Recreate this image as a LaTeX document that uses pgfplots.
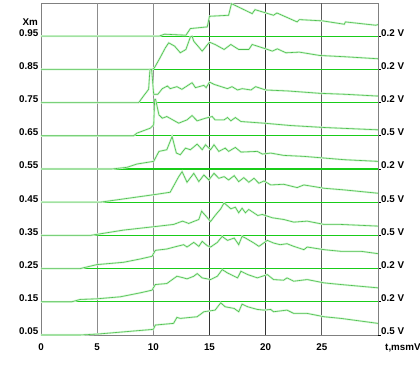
\documentclass[border=0pt]{standalone}
\usepackage{pgfplots}
\pgfplotsset{compat=1.18}
\usepackage{fontspec}
\setmainfont{Liberation Sans}
\definecolor{frm}{rgb}{0.5,0.5,0.5}
\definecolor{gridl}{rgb}{0.55,0.55,0.55}
\definecolor{gridd}{rgb}{0.2,0.2,0.2}
\definecolor{basel}{rgb}{0.1,0.8,0.1}
\definecolor{trc}{rgb}{0.3,0.75,0.3}
\definecolor{halo}{rgb}{0.82,0.96,0.82}
\begin{document}
\begin{tikzpicture}
\pgfplotsset{
  trace/.style={color=trc, line width=0.6pt, no marks, preaction={draw=halo, line width=2pt}},
  bthin/.style={color=basel, line width=0.7pt, no marks},
  bthick/.style={color=basel, line width=1.1pt, no marks},
}
\begin{axis}[
  scale only axis, width=337pt, height=332pt,
  xmin=0, xmax=30, ymin=0.05, ymax=1.05,
  axis line style={frm, line width=0.8pt},
  xtick={0,5,10,15,20,25}, xticklabels={0,5,10,15,20,25},
  ytick={0.05,0.15,0.25,0.35,0.45,0.55,0.65,0.75,0.85,0.95},
  yticklabels={0.05,0.15,0.25,0.35,0.45,0.55,0.65,0.75,0.85,0.95},
  major tick length=0pt,
  xtick pos=bottom, ytick pos=left,
  tick label style={font=\bfseries\fontsize{9.8}{11}\selectfont},
  xticklabel style={anchor=north, yshift=-5pt},
  yticklabel style={anchor=base east, inner sep=2.5pt},
  clip=false,
]
% vertical grid lines
\addplot[gridl, line width=0.7pt] coordinates {(5,0.05) (5,1.05)};
\addplot[gridl, line width=0.7pt] coordinates {(10,0.05) (10,1.05)};
\addplot[gridd, line width=0.7pt] coordinates {(15,0.05) (15,1.05)};
\addplot[gridd, line width=0.7pt] coordinates {(20,0.05) (20,1.05)};
\addplot[gridd!80!white, line width=0.7pt] coordinates {(25,0.05) (25,1.05)};
% baselines
\addplot[bthin] coordinates {(0,0.95) (30,0.95)};
\addplot[bthin] coordinates {(0,0.85) (30,0.85)};
\addplot[bthick] coordinates {(0,0.75) (30,0.75)};
\addplot[bthick] coordinates {(0,0.65) (30,0.65)};
\addplot[bthick] coordinates {(0,0.55) (30,0.55)};
\addplot[bthick] coordinates {(0,0.45) (30,0.45)};
\addplot[bthin] coordinates {(0,0.35) (30,0.35)};
\addplot[bthin] coordinates {(0,0.25) (30,0.25)};
\addplot[bthin] coordinates {(0,0.15) (30,0.15)};
% traces
\addplot[trace] coordinates {(0,0.95) (10.5,0.95) (11,0.956) (12.9,0.953) (13.3,0.973) (14.8,0.978) (15.0,1.010) (16.7,1.013) (16.96,1.048) (18.8,1.018) (19.05,1.030) (20.7,1.013) (21.0,1.020) (22.8,0.993) (23.0,1.000) (25.1,0.996) (27.0,0.986) (27.1,0.993) (29.8,0.983) (30,0.985)};
\addplot[trace] coordinates {(0,0.85) (9.9,0.85) (10.1,0.855) (10.6,0.885) (11.07,0.915) (11.37,0.930) (11.9,0.92) (12.4,0.900) (12.9,0.91) (13.3,0.948) (13.45,0.95) (13.6,0.935) (14.35,0.905) (15.0,0.932) (15.5,0.925) (16.3,0.91) (16.9,0.925) (17.6,0.91) (18.5,0.91) (18.8,0.925) (19.26,0.92) (20.0,0.912) (20.6,0.905) (21.04,0.912) (21.8,0.90) (23.0,0.902) (24.8,0.892) (27.1,0.888) (30,0.882)};
\addplot[trace] coordinates {(0,0.75) (8.7,0.75) (9.13,0.770) (9.58,0.790) (9.7,0.85) (9.85,0.85) (10.03,0.775) (10.4,0.775) (10.8,0.792) (11.25,0.800) (11.5,0.792) (12.1,0.798) (12.54,0.790) (13.45,0.810) (13.75,0.795) (14.5,0.802) (14.7,0.795) (15.0,0.812) (15.4,0.805) (16.6,0.792) (17.0,0.798) (17.5,0.788) (17.9,0.792) (18.7,0.788) (19.1,0.798) (20.0,0.788) (22.0,0.785) (24.8,0.778) (27.1,0.775) (29.8,0.770) (30,0.770)};
\addplot[trace] coordinates {(0,0.65) (8.24,0.65) (8.54,0.658) (9.73,0.673) (10.03,0.683) (10.12,0.76) (10.2,0.76) (10.5,0.713) (10.8,0.703) (11.2,0.708) (12.26,0.688) (13.0,0.698) (13.45,0.711) (13.9,0.695) (14.64,0.703) (15.24,0.708) (15.5,0.698) (16.3,0.698) (16.6,0.705) (16.9,0.695) (17.3,0.705) (17.8,0.693) (19.85,0.688) (22.2,0.681) (25.2,0.675) (30,0.668)};
\addplot[trace] coordinates {(0,0.55) (6.3,0.55) (7.65,0.555) (8.54,0.565) (10.03,0.573) (10.5,0.603) (11.2,0.608) (11.67,0.648) (12.05,0.598) (12.4,0.593) (12.86,0.613) (13.3,0.608) (13.9,0.625) (14.35,0.608) (14.64,0.623) (15.1,0.608) (15.4,0.623) (15.83,0.603) (16.4,0.613) (16.7,0.603) (17.3,0.615) (17.8,0.601) (19.26,0.603) (19.7,0.595) (20.45,0.598) (21.6,0.591) (23.4,0.588) (25.2,0.583) (27.0,0.578) (30,0.573)};
\addplot[trace] coordinates {(0,0.45) (5.27,0.45) (10.33,0.474) (11.5,0.480) (12.26,0.527) (12.56,0.542) (13.0,0.510) (13.6,0.537) (14.05,0.512) (14.5,0.532) (14.94,0.517) (15.4,0.537) (15.83,0.522) (16.3,0.527) (16.7,0.517) (17.2,0.530) (17.6,0.512) (18.06,0.524) (18.5,0.510) (18.96,0.522) (19.4,0.507) (19.85,0.514) (20.45,0.502) (21.6,0.504) (22.8,0.494) (23.4,0.502) (25.2,0.492) (27.0,0.487) (30,0.477)};
\addplot[trace] coordinates {(0,0.35) (4.4,0.35) (7.35,0.366) (10.0,0.376) (11.8,0.383) (12.6,0.393) (13.15,0.386) (14.05,0.398) (14.3,0.423) (15.1,0.392) (15.5,0.41) (16.0,0.43) (16.3,0.448) (16.9,0.430) (17.3,0.435) (17.6,0.418) (17.9,0.432) (18.2,0.418) (18.5,0.428) (19.3,0.410) (19.7,0.413) (20.15,0.408) (20.6,0.403) (21.6,0.398) (22.5,0.390) (23.7,0.393) (25.2,0.383) (26.7,0.383) (30,0.378)};
\addplot[trace] coordinates {(0,0.25) (3.48,0.25) (4.97,0.262) (7.35,0.269) (8.84,0.279) (9.88,0.287) (10.18,0.305) (11.2,0.309) (12.1,0.317) (12.7,0.322) (13.0,0.315) (13.6,0.329) (14.05,0.317) (14.35,0.332) (14.8,0.319) (15.1,0.315) (15.7,0.329) (16.13,0.347) (16.6,0.335) (17.2,0.342) (17.6,0.322) (17.9,0.347) (18.2,0.342) (18.96,0.327) (19.4,0.317) (20.15,0.335) (20.7,0.327) (21.3,0.322) (21.9,0.325) (22.5,0.317) (23.4,0.307) (23.7,0.315) (25.2,0.307) (26.7,0.302) (28.5,0.302) (30,0.295)};
\addplot[trace] coordinates {(0,0.15) (2.74,0.15) (3.48,0.157) (4.97,0.159) (7.05,0.165) (8.84,0.177) (9.88,0.185) (10.18,0.202) (11.2,0.205) (12.1,0.227) (12.7,0.222) (13.0,0.219) (13.6,0.227) (13.9,0.235) (14.35,0.222) (15.1,0.217) (15.7,0.227) (16.13,0.247) (16.6,0.237) (17.5,0.222) (17.8,0.242) (18.4,0.232) (19.26,0.222) (20.15,0.232) (20.7,0.217) (21.6,0.215) (21.9,0.222) (22.5,0.212) (23.7,0.217) (25.2,0.207) (26.7,0.202) (30,0.192)};
\addplot[trace] coordinates {(0,0.05) (3.48,0.05) (5.1,0.053) (10.0,0.067) (10.18,0.080) (11.8,0.085) (12.1,0.103) (12.4,0.100) (13.9,0.105) (14.5,0.120) (15.1,0.123) (15.5,0.125) (16.0,0.147) (16.4,0.135) (17.2,0.130) (17.6,0.120) (17.9,0.143) (18.4,0.135) (19.26,0.127) (19.85,0.125) (20.45,0.127) (20.7,0.120) (21.9,0.125) (22.5,0.115) (23.7,0.115) (25.2,0.105) (26.7,0.100) (30,0.085)};
% labels
\node[anchor=base east, font=\bfseries\fontsize{9.8}{11}\selectfont, inner sep=0pt, xshift=-3pt] at (axis cs:0,0.981) {Xm};
\node[anchor=base, font=\bfseries\fontsize{9.8}{11}\selectfont, inner sep=0pt, yshift=-16pt] at (rel axis cs:1.074,0) {t,msmV};
\coordinate (BBA) at (rel axis cs:-0.12166,-0.11145);
\coordinate (BBB) at (rel axis cs:1.12463,1.00904);
\end{axis}
\begin{axis}[
  scale only axis, width=337pt, height=332pt,
  xmin=0, xmax=30, ymin=0.05, ymax=1.05,
  axis x line=none, axis y line*=right,
  axis line style={frm, line width=0.8pt},
  ytick={0.05,0.15,0.25,0.35,0.45,0.55,0.65,0.75,0.85,0.95},
  yticklabels={0.5 V,0.2 V,0.2 V,0.5 V,0.5 V,0.2 V,0.5 V,0.2 V,0.2 V,0.2 V},
  tick align=outside, major tick length=2.5pt,
  tick style={black, line width=0.6pt},
  yticklabel style={anchor=base west, inner sep=0.5pt, font=\bfseries\fontsize{9.8}{11}\selectfont},
]
\addplot[draw=none] coordinates {(0,0.05) (30,1.05)};
\end{axis}
\pgfresetboundingbox
\path[use as bounding box] (BBA) rectangle (BBB);
\end{tikzpicture}
\end{document}
